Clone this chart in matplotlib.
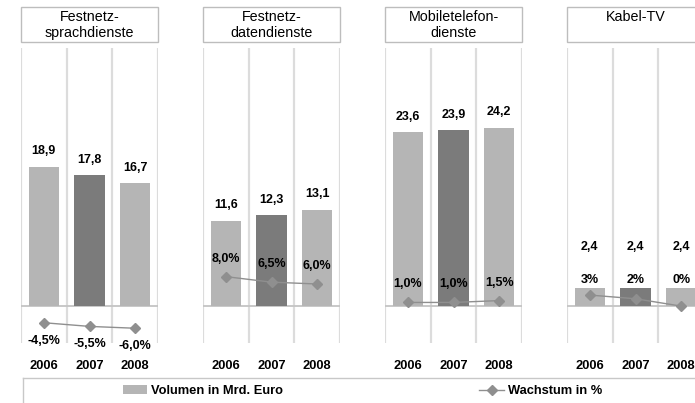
import matplotlib
matplotlib.use("Agg")
import matplotlib.pyplot as plt
from matplotlib.patches import Rectangle, Patch
from matplotlib.lines import Line2D

plt.rcParams['font.family'] = ['Liberation Sans', 'DejaVu Sans']

# Data
years = ["2006", "2007", "2008"]
segments = ["Festnetz-\nsprachdienste", "Festnetz-\ndatendienste",
            "Mobiletelefon-\ndienste", "Kabel-TV"]
volume = [
    [18.9, 17.8, 16.7],
    [11.6, 12.3, 13.1],
    [23.6, 23.9, 24.2],
    [2.4, 2.4, 2.4],
]
growth = [
    [-4.5, -5.5, -6.0],
    [8.0, 6.5, 6.0],
    [1.0, 1.0, 1.5],
    [3.0, 2.0, 0.0],
]
growth_decimals = [1, 1, 1, 0]

LIGHT = "#b5b5b5"
DARK = "#7b7b7b"
bar_colors = [LIGHT, DARK, LIGHT]
LINE_COL = "#8f8f8f"
GRID_COL = "#dcdcdc"
ZERO_COL = "#c4c4c4"

W, H = 695, 403
fig = plt.figure(figsize=(W / 100, H / 100), dpi=100)

panel_left = [21, 203, 385, 567]
panel_w = 137
plot_top, plot_bot = 48, 343
box_top, box_bot = 7, 42


def fmt_num(v, d):
    return f"{v:.{d}f}".replace(".", ",")


for i in range(4):
    x0 = panel_left[i]
    ax = fig.add_axes([x0 / W, (H - plot_bot) / H, panel_w / W,
                       (plot_bot - plot_top) / H])
    ax2 = ax.twinx()
    xs = list(range(len(years)))

    ax.bar(xs, volume[i], width=0.66, color=bar_colors, zorder=2)
    ax.set_xlim(-0.5, 2.5)
    ax.set_ylim(-5, 35)
    ax2.set_ylim(-10, 70)
    ax.axhline(0, color=ZERO_COL, lw=1.3, zorder=1)
    for gx in [-0.5, 0.5, 1.5, 2.5]:
        ax.axvline(gx, color=GRID_COL, lw=1.6, zorder=0)

    ax2.plot(xs, growth[i], color=LINE_COL, lw=1.0, marker="D",
             markersize=5, zorder=3)

    for a in (ax, ax2):
        for s in a.spines.values():
            s.set_visible(False)
        a.set_yticks([])
    ax2.set_xticks([])
    ax.set_xticks(xs)
    ax.set_xticklabels(years, fontsize=9.3, fontweight="bold")
    ax.tick_params(axis="x", length=0, pad=12)

    kabel = (i == 3)
    for j, v in enumerate(volume[i]):
        off = 30 if kabel else 11
        ax.annotate(fmt_num(v, 1), (j, v), xytext=(0, off),
                    textcoords="offset points", ha="center", va="center",
                    fontsize=9, fontweight="bold", zorder=5)
    for j, g in enumerate(growth[i]):
        txt = fmt_num(g, growth_decimals[i]) + "%"
        if kabel:
            ax.annotate(txt, (j, volume[i][j]), xytext=(0, 6),
                        textcoords="offset points", ha="center",
                        va="center", fontsize=9, fontweight="bold",
                        zorder=5)
        else:
            off = -13 if g < 0 else 13
            ax2.annotate(txt, (j, g), xytext=(0, off),
                         textcoords="offset points", ha="center",
                         va="center", fontsize=9, fontweight="bold",
                         zorder=5)

    # segment title box
    fig.patches.append(Rectangle((x0 / W, (H - box_bot) / H), panel_w / W,
                                 (box_bot - box_top) / H,
                                 transform=fig.transFigure, facecolor="white",
                                 edgecolor="#bdbdbd", lw=1.0))
    fig.text((x0 + panel_w / 2) / W, (H - 10) / H, segments[i],
             ha="center", va="top", fontsize=10.3, linespacing=1.2)

# legend frame
fig.add_artist(Line2D([23 / W, 1], [(H - 378) / H] * 2,
                      transform=fig.transFigure, color="#c8c8c8", lw=1.0))
fig.add_artist(Line2D([23 / W, 23 / W], [0, (H - 378) / H],
                      transform=fig.transFigure, color="#c8c8c8", lw=1.0))

handles = [Patch(facecolor=LIGHT, edgecolor="none"),
           Line2D([], [], color=LINE_COL, lw=1.0, marker="D", markersize=5)]
leg = fig.legend(handles, ["Volumen in Mrd. Euro", "Wachstum in %"],
                 loc="center left", bbox_to_anchor=(111 / W, (H - 391) / H),
                 ncol=2, frameon=False, handlelength=1.9, handleheight=0.6,
                 handletextpad=0.3, columnspacing=15.2,
                 prop={"weight": "bold", "size": 9.3})

fig.savefig("out.png", dpi=100)
